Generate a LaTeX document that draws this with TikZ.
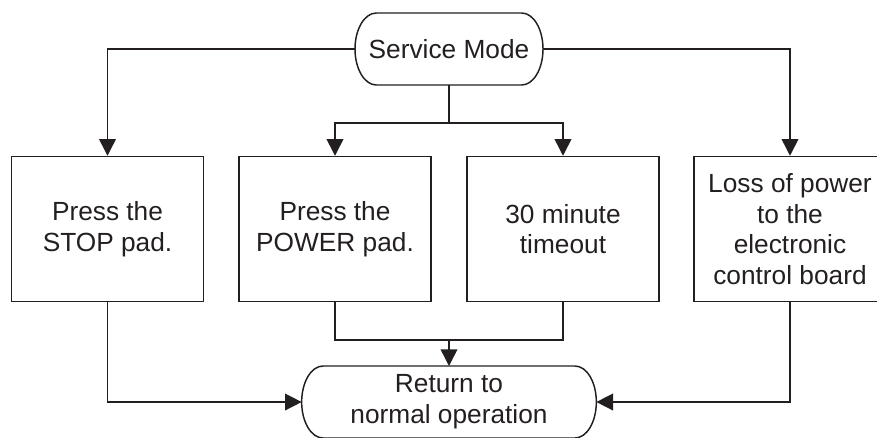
\documentclass[tikz,border=0pt]{standalone}
\usepackage{fontspec}
\setmainfont{Liberation Sans}
\usepackage{xcolor}
\usepackage{tikz}
\usetikzlibrary{calc, arrows.meta, positioning}

\definecolor{ink}{RGB}{35,31,32}
\tikzset{
  procbox/.style={draw=ink, line width=1.1pt, minimum width=144pt, minimum height=108.75pt, align=center, inner sep=2pt},
  pill/.style={minimum width=#1, minimum height=54pt, align=center, inner sep=0pt, outer sep=0pt},
  link/.style={draw=ink, line width=1.1pt},
}
\newcommand{\pillshape}[1]{%
  \draw[link] ([xshift=16pt]#1.north west) -- ([xshift=-16pt]#1.north east)
    arc[start angle=90, end angle=-90, x radius=16pt, y radius=27pt]
    -- ([xshift=16pt]#1.south west)
    arc[start angle=270, end angle=90, x radius=16pt, y radius=27pt] -- cycle;}

\begin{document}
\begin{tikzpicture}[x=0.75pt, y=0.75pt, >={Triangle[width=12.5pt, length=12.5pt]},
    font=\fontsize{19.7}{23}\selectfont, text=ink]
    \useasboundingbox (0,0) rectangle (877,437);
    % start and end
    \node[pill=141pt] (svc) at (449,388) {Service Mode};
    \node[pill=221pt] (ret) at (449,35) {Return to\\normal operation};
    \pillshape{svc}
    \pillshape{ret}
    % ways out of service mode
    \node[procbox] (stop) at (107.5,208) {Press the\\STOP pad.};
    \node[procbox] (power) at (335,208) {Press the\\POWER pad.};
    \node[procbox] (timeout) at (563,208) {30 minute\\timeout};
    \node[procbox] (loss) at (790,208) {Loss of power\\to the\\electronic\\control board};
    \coordinate (split) at ($(svc.south)+(0,-38)$);
    \coordinate (merge) at ($(ret.north)+(0,26)$);
    % connectors
    \draw[link,->] (svc.west) -| (stop.north);
    \draw[link,->] (svc.east) -| (loss.north);
    \draw[link,->] (svc.south) -- (split) -| (power.north);
    \draw[link,->] (split) -| (timeout.north);
    \draw[link] (power.south) |- (merge) -| (timeout.south);
    \draw[link,->] (merge) -- (ret.north);
    \draw[link,->] (stop.south) |- (ret.west);
    \draw[link,->] (loss.south) |- (ret.east);
\end{tikzpicture}
\end{document}
